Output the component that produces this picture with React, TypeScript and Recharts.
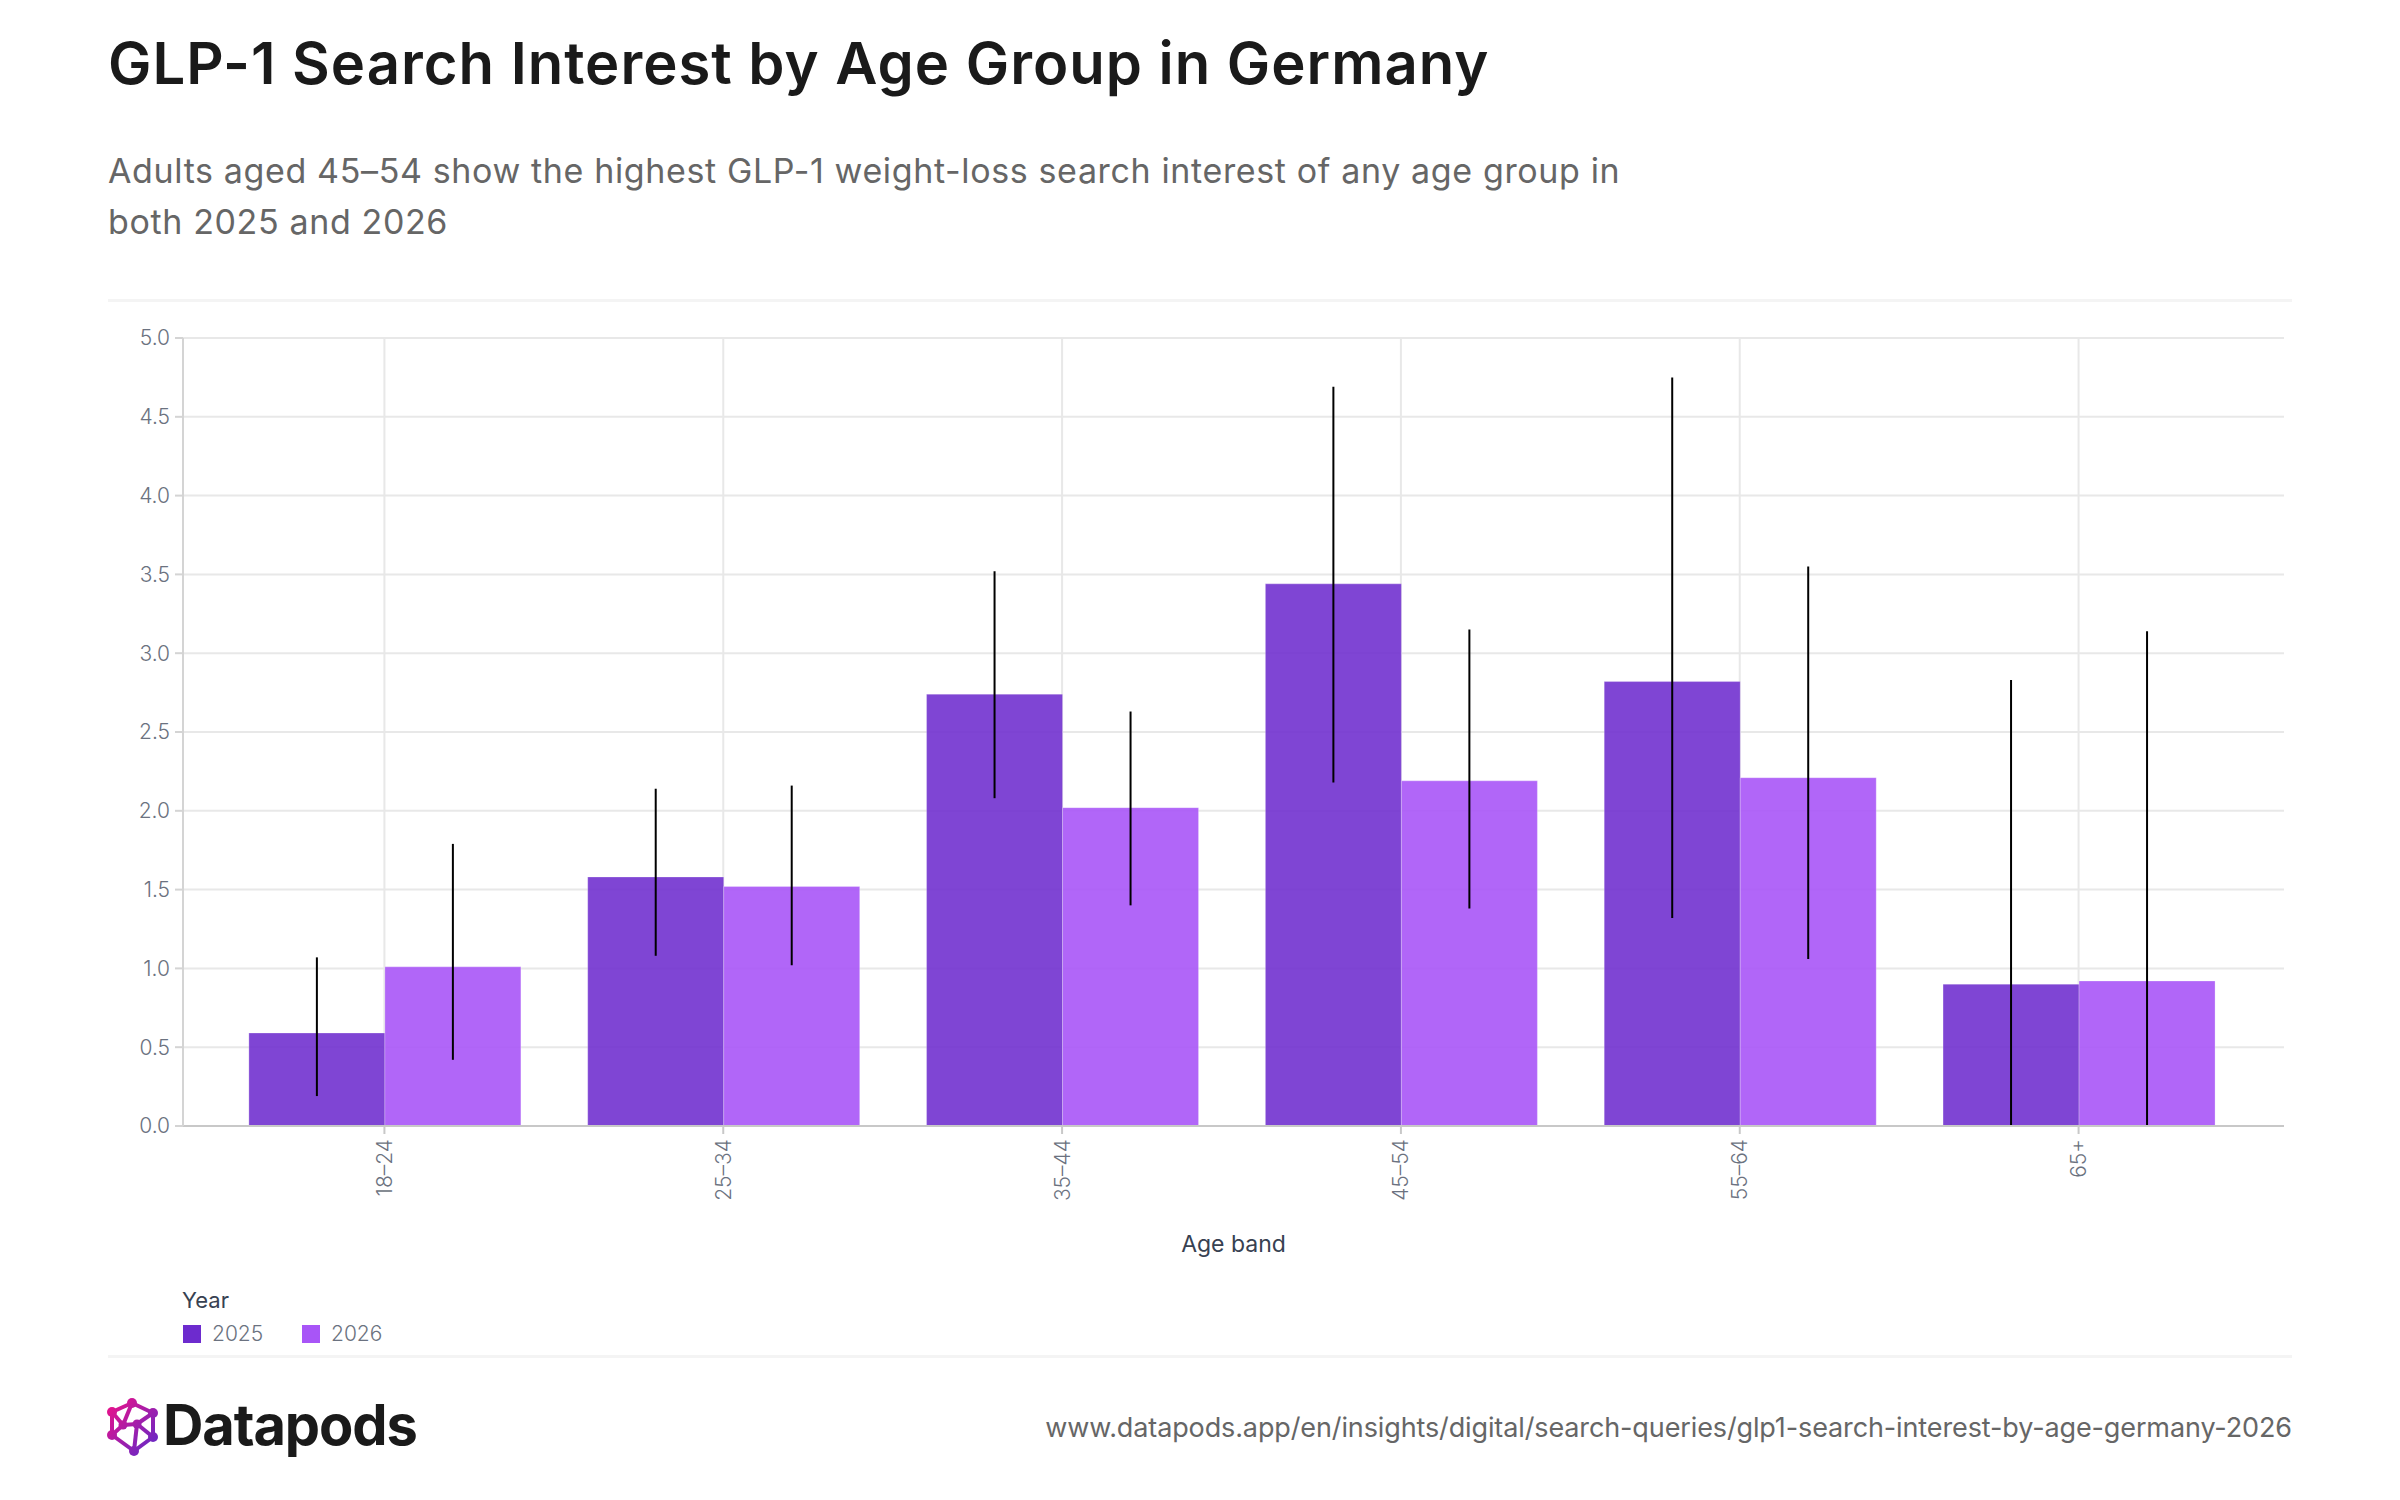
import { BarChart, Bar, XAxis, YAxis, CartesianGrid, ErrorBar, Legend } from "recharts";

const ageBands = ["18–24", "25–34", "35–44", "45–54", "55–64", "65+"];
const years = ["2025", "2026"];
const yTicks = [0, 0.5, 1, 1.5, 2, 2.5, 3, 3.5, 4, 4.5, 5];

const values2025 = [0.59, 1.58, 2.74, 3.44, 2.82, 0.9];
const low2025 = [0.19, 1.08, 2.08, 2.18, 1.32, 0];
const high2025 = [1.07, 2.14, 3.52, 4.69, 4.75, 2.83];

const values2026 = [1.01, 1.52, 2.02, 2.19, 2.21, 0.92];
const low2026 = [0.42, 1.02, 1.4, 1.38, 1.06, 0];
const high2026 = [1.79, 2.16, 2.63, 3.15, 3.55, 3.14];

const color2025 = "#6d2bce";
const color2026 = "#a855f7";

const data = ageBands.map((band, i) => ({
  band,
  y2025: values2025[i],
  y2026: values2026[i],
  err2025: [values2025[i] - low2025[i], high2025[i] - values2025[i]],
  err2026: [values2026[i] - low2026[i], high2026[i] - values2026[i]],
}));

const FONT = "Inter, sans-serif";

const rule = (top: number) => ({
  position: "absolute" as const,
  left: 108,
  top,
  width: 2184,
  height: 3,
  background: "#f4f4f4",
});

function BandTick({ x, y, payload }: any) {
  return (
    <text
      x={x}
      y={y}
      transform={`rotate(-90 ${x} ${y})`}
      textAnchor="end"
      dominantBaseline="central"
      fontFamily={FONT}
      fontSize={21}
      fontWeight={300}
      fill="#6b7280"
    >
      {payload.value}
    </text>
  );
}

function YearLegend({ payload }: any) {
  return (
    <div style={{ fontFamily: FONT }}>
      <div style={{ fontSize: 22, color: "#374151", lineHeight: "30px", marginLeft: -1 }}>Year</div>
      <div style={{ display: "flex", marginTop: 8 }}>
        {(payload || []).map((item: any) => (
          <div key={item.value} style={{ display: "flex", alignItems: "center", width: 119 }}>
            <span style={{ width: 18, height: 18, background: item.color, marginRight: 11 }} />
            <span style={{ fontSize: 21, fontWeight: 300, color: "#6b7280", lineHeight: "22px" }}>{item.value}</span>
          </div>
        ))}
      </div>
    </div>
  );
}

function Logo() {
  const nodes = [
    [132, 1403], [153, 1413], [153, 1437], [134, 1451],
    [112, 1435], [112, 1412], [123, 1425], [137, 1424],
  ];
  const edges = [
    [0, 1], [1, 2], [2, 3], [3, 4], [4, 5], [5, 0],
    [0, 6], [5, 6], [6, 4], [6, 7], [7, 1], [7, 2], [7, 3],
  ];
  return (
    <svg width={80} height={70} viewBox="100 1390 80 70" style={{ position: "absolute", left: 100, top: 1390 }}>
      <defs>
        <linearGradient id="logoGrad" gradientUnits="userSpaceOnUse" x1="110" y1="1405" x2="155" y2="1445">
          <stop offset="0" stopColor="#e5128c" />
          <stop offset="1" stopColor="#6a28c4" />
        </linearGradient>
      </defs>
      {edges.map(([a, b], i) => (
        <line key={i} x1={nodes[a][0]} y1={nodes[a][1]} x2={nodes[b][0]} y2={nodes[b][1]} stroke="url(#logoGrad)" strokeWidth={4} />
      ))}
      {nodes.map(([x, y], i) => (
        <circle key={i} cx={x} cy={y} r={i > 5 ? 4.5 : 5} fill="url(#logoGrad)" />
      ))}
    </svg>
  );
}

export default function App() {
  return (
    <div style={{ position: "absolute", left: 0, top: 0, width: 2400, height: 1500, background: "#fff", overflow: "hidden", fontFamily: FONT }}>
      <div style={{ position: "absolute", left: 108, top: 28, fontSize: 58, fontWeight: 600, color: "#1a1a1a", lineHeight: "70px", letterSpacing: 1, whiteSpace: "nowrap" }}>
        GLP-1 Search Interest by Age Group in Germany
      </div>
      <div style={{ position: "absolute", left: 108, top: 145, fontSize: 34, color: "#666", lineHeight: "51px", letterSpacing: 0.63, whiteSpace: "nowrap" }}>
        Adults aged 45–54 show the highest GLP-1 weight-loss search interest of any age group in
        <br />
        both 2025 and 2026
      </div>
      <div style={rule(299)} />

      <div style={{ position: "absolute", left: 0, top: 0 }}>
        <BarChart
          width={2400}
          height={1500}
          data={data}
          barCategoryGap="10%"
          barGap={0}
          margin={{ top: 338, right: 116, bottom: 244, left: 103 }}
        >
          <CartesianGrid stroke="#e8e8e8" strokeWidth={2} syncWithTicks />
          <XAxis
            dataKey="band"
            scale="band"
            padding={{ left: 32, right: 36 }}
            height={130}
            interval={0}
            tick={BandTick}
            tickSize={8}
            tickMargin={5}
            stroke="#c8c8c8"
            strokeWidth={2}
            label={{ value: "Age band", position: "insideBottom", offset: 4, fontFamily: FONT, fontSize: 23, fill: "#374151" }}
          />
          <YAxis
            domain={[0, 5]}
            ticks={yTicks}
            width={80}
            tickFormatter={(v: number) => v.toFixed(1)}
            tickSize={8}
            tickMargin={5}
            stroke="#d4d4d4"
            strokeWidth={2}
            tick={{ fontFamily: FONT, fontSize: 21, fontWeight: 300, fill: "#6b7280" }}
          />
          <Legend
            layout="horizontal"
            verticalAlign="middle"
            content={YearLegend}
            wrapperStyle={{ left: 183, top: 1285, width: 500 }}
          />
          <Bar dataKey="y2025" name={years[0]} fill={color2025} fillOpacity={0.88} stroke="#fff" strokeOpacity={0.25} strokeWidth={1} isAnimationActive={false}>
            <ErrorBar dataKey="err2025" width={0} stroke="#000" strokeWidth={2} isAnimationActive={false} />
          </Bar>
          <Bar dataKey="y2026" name={years[1]} fill={color2026} fillOpacity={0.9} stroke="#fff" strokeOpacity={0.25} strokeWidth={1} isAnimationActive={false}>
            <ErrorBar dataKey="err2026" width={0} stroke="#000" strokeWidth={2} isAnimationActive={false} />
          </Bar>
        </BarChart>
      </div>

      <div style={rule(1355)} />
      <Logo />
      <div style={{ position: "absolute", left: 163, top: 1390, fontSize: 56, fontWeight: 700, color: "#1a1a1a", lineHeight: "70px", letterSpacing: -1.1 }}>
        Datapods
      </div>
      <div style={{ position: "absolute", right: 108, top: 1410, fontSize: 27, color: "#666", lineHeight: "36px", letterSpacing: -0.12, whiteSpace: "nowrap" }}>
        www.datapods.app/en/insights/digital/search-queries/glp1-search-interest-by-age-germany-2026
      </div>
    </div>
  );
}
